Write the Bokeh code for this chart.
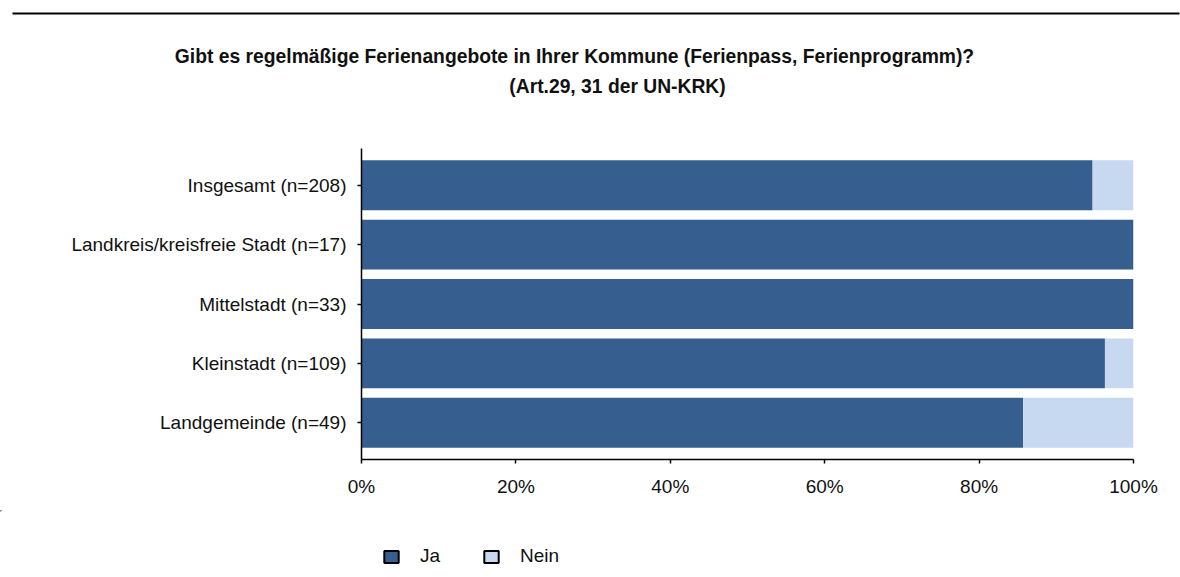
from bokeh.plotting import figure
from bokeh.layouts import column
from bokeh.models import (Range1d, Label, BoxAnnotation, Legend, LegendItem,
                          ColumnDataSource, FixedTicker)
from bokeh.embed import file_html
from bokeh.resources import INLINE

categories = ["Insgesamt (n=208)", "Landkreis/kreisfreie Stadt (n=17)",
              "Mittelstadt (n=33)", "Kleinstadt (n=109)", "Landgemeinde (n=49)"]
ja = [94.7, 100.0, 100.0, 96.3, 85.7]
nein = [5.3, 0.0, 0.0, 3.7, 14.3]
series = ["Ja", "Nein"]
colors = ["#365f8f", "#c6d9f0"]
x_ticks = [0, 20, 40, 60, 80, 100]
title_1 = "Gibt es regelmäßige Ferienangebote in Ihrer Kommune (Ferienpass, Ferienprogramm)?"
title_2 = "(Art.29, 31 der UN-KRK)"

FONT = "Liberation Sans"
W = 1180
TOP_H, MAIN_H, LEG_H = 148, 362, 67


def blank(height):
    f = figure(width=W, height=height, output_backend="svg", toolbar_location=None,
               x_range=Range1d(0, W), y_range=Range1d(height, 0),
               x_axis_location=None, y_axis_location=None,
               min_border=0)
    f.outline_line_color = None
    f.xgrid.visible = False
    f.ygrid.visible = False
    if "frame_align" in f.properties():
        f.frame_align = False
    return f


# ---- title strip -------------------------------------------------------
top = blank(TOP_H)
top.add_layout(BoxAnnotation(left=12, right=1179, top=12, bottom=14,
                             fill_color="black", fill_alpha=1, line_color=None))
top.add_layout(Label(x=574, y=56, text=title_1, text_align="center",
                     text_baseline="middle", text_font=FONT, text_font_size="19.3px",
                     text_font_style="bold", text_color="#111111"))
top.add_layout(Label(x=617, y=86, text=title_2, text_align="center",
                     text_baseline="middle", text_font=FONT, text_font_size="19.3px",
                     text_font_style="bold", text_color="#111111"))

# ---- main chart --------------------------------------------------------
n = len(categories)
ypos = [n - 1 - i for i in range(n)]
src = ColumnDataSource(dict(y=ypos, Ja=ja, Nein=nein))

p = figure(width=W, height=MAIN_H, output_backend="svg", toolbar_location=None,
           x_range=Range1d(0, 100), y_range=Range1d(-0.62, n - 1 + 0.62),
           min_border_left=361, min_border_right=47, min_border_top=0,
           min_border_bottom=51)
p.outline_line_color = None
p.xgrid.visible = False
p.ygrid.visible = False
if "frame_align" in p.properties():
    p.frame_align = False

p.hbar_stack(series, y="y", height=0.84, color=colors, source=src,
             line_color=None)

p.xaxis.ticker = FixedTicker(ticks=x_ticks)
p.xaxis.major_label_overrides = {t: f"{t}%" for t in x_ticks}
p.yaxis.ticker = FixedTicker(ticks=ypos)
p.yaxis.major_label_overrides = {y: c for y, c in zip(ypos, categories)}
for ax in (p.xaxis[0], p.yaxis[0]):
    ax.axis_line_color = "black"
    ax.axis_line_width = 1.5
    ax.major_tick_line_color = "black"
    ax.major_tick_line_width = 1.5
    ax.major_tick_out = 4
    ax.major_tick_in = 0
    ax.minor_tick_line_color = None
    ax.major_label_text_font = FONT
    ax.major_label_text_font_size = "19px"
    ax.major_label_text_color = "#111111"
p.xaxis.major_label_standoff = 12
p.yaxis.major_label_standoff = 11

# ---- legend strip ------------------------------------------------------
# legend proxies: one zero-size bar each, far outside the strip's visible range
leg = blank(LEG_H)
far = -10 * W
dummies = [leg.hbar(y=[far], left=[far], right=[far], height=0, fill_color=c,
                    line_color="black", line_width=2) for c in colors]
legend = Legend(items=[LegendItem(label=s, renderers=[r]) for s, r in zip(series, dummies)],
                location=(382, 10), orientation="horizontal",
                glyph_width=18, glyph_height=15, label_standoff=20, spacing=42,
                padding=0, margin=0, border_line_color=None,
                background_fill_alpha=0, label_text_font=FONT,
                label_text_font_size="19px", label_height=15,
                label_text_color="#111111")
leg.add_layout(legend, "center")

layout = column(top, p, leg, spacing=0)
open("out.html", "w").write(file_html(layout, INLINE))
